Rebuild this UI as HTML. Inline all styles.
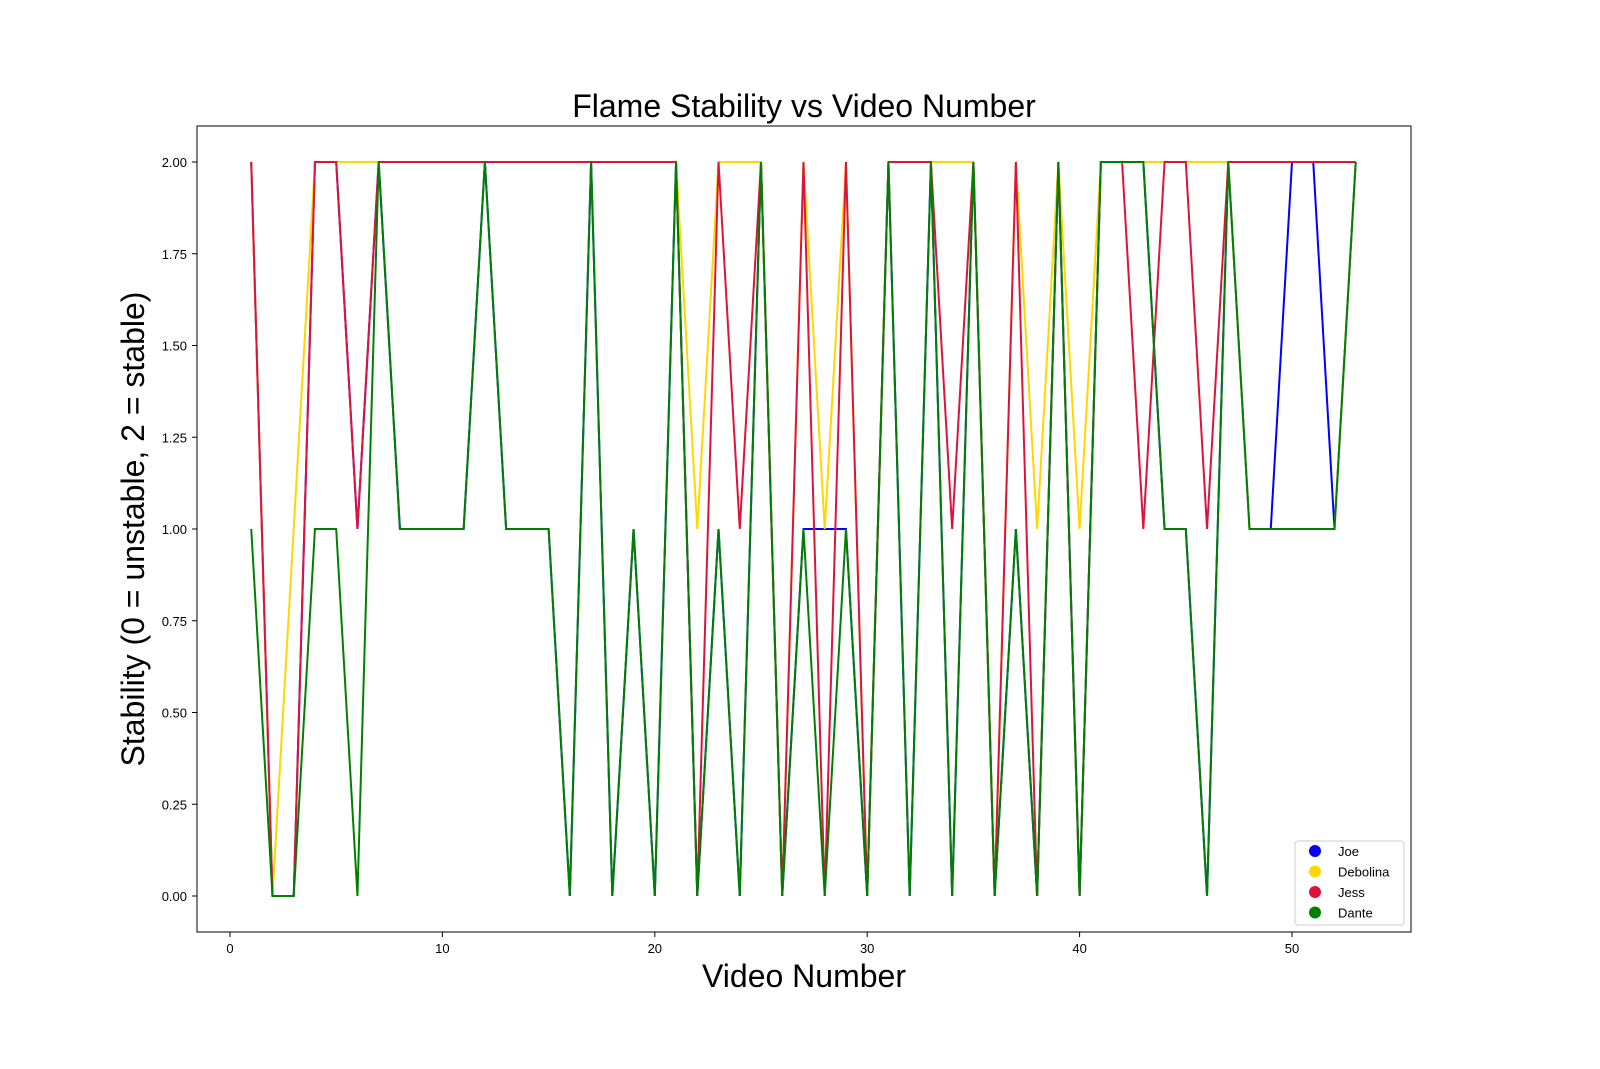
<!DOCTYPE html>
<html><head><meta charset="utf-8"><style>
body{margin:0;background:#fff;}
svg{display:block;font-family:"Liberation Sans","DejaVu Sans",sans-serif;}
</style></head><body>
<svg id="chart" width="1600" height="1069" viewBox="0 0 1600 1069">
<rect x="0" y="0" width="1600" height="1069" fill="#fff"/>
<text x="804" y="117" font-size="32" text-anchor="middle">Flame Stability vs Video Number</text>
<g id="plot"></g>
<g id="axes"></g>
<rect x="197" y="126" width="1214" height="806" fill="none" stroke="#000" stroke-width="1"/>
<text x="804" y="987" font-size="32" text-anchor="middle">Video Number</text>
<text x="0" y="0" font-size="32" text-anchor="middle" transform="translate(144,529) rotate(-90)">Stability (0 = unstable, 2 = stable)</text>
<g>
<rect x="1295" y="841" width="109" height="84" rx="3" fill="#fff" stroke="#ccc"/>
<g id="legend-items"></g>
</g>
</svg>
<script>
const xTicks=[0,10,20,30,40,50];
const yTicks=[0,0.25,0.5,0.75,1,1.25,1.5,1.75,2];
const yTickLabels=["0.00","0.25","0.50","0.75","1.00","1.25","1.50","1.75","2.00"];
const seriesNames=["Joe","Debolina","Jess","Dante"];
const seriesColors=["#0000ff","#ffd700","#dc143c","#008000"];
const videos=[1,2,3,4,5,6,7,8,9,10,11,12,13,14,15,16,17,18,19,20,21,22,23,24,25,26,27,28,29,30,31,32,33,34,35,36,37,38,39,40,41,42,43,44,45,46,47,48,49,50,51,52,53];
const joe=[2,0,0,2,2,1,2,1,1,1,1,2,1,1,1,0,2,0,1,0,2,0,1,0,2,0,1,1,1,0,2,0,2,0,2,0,1,0,2,0,2,2,2,1,1,0,2,1,1,2,2,1,2];
const debolina=[2,0,1,2,2,2,2,2,2,2,2,2,2,2,2,2,2,2,2,2,2,1,2,2,2,0,2,1,2,0,2,2,2,2,2,0,2,1,2,1,2,2,2,2,2,2,2,1,1,1,1,1,2];
const jess=[2,0,0,2,2,1,2,2,2,2,2,2,2,2,2,2,2,2,2,2,2,0,2,1,2,0,2,0,2,0,2,2,2,1,2,0,2,0,2,0,2,2,1,2,2,1,2,2,2,2,2,2,2];
const dante=[1,0,0,1,1,0,2,1,1,1,1,2,1,1,1,0,2,0,1,0,2,0,1,0,2,0,1,0,1,0,2,0,2,0,2,0,1,0,2,0,2,2,2,1,1,0,2,1,1,1,1,1,2];
const allSeries=[joe,debolina,jess,dante];
const NS="http://www.w3.org/2000/svg";
function sx(v){return 230+v*21.24;}
function sy(v){return 896-v*367;}
const plot=document.getElementById('plot');
const axes=document.getElementById('axes');
xTicks.forEach(t=>{
  const l=document.createElementNS(NS,'line');
  l.setAttribute('x1',sx(t));l.setAttribute('x2',sx(t));l.setAttribute('y1',932);l.setAttribute('y2',937);l.setAttribute('stroke','#000');
  
  
  axes.appendChild(l);
  const tx=document.createElementNS(NS,'text');
  tx.setAttribute('x',sx(t));tx.setAttribute('y',953);tx.setAttribute('font-size','13');tx.setAttribute('text-anchor','middle');
  tx.textContent=t;
  
  
  axes.appendChild(tx);
});
yTicks.forEach((t,i)=>{
  const l=document.createElementNS(NS,'line');
  l.setAttribute('x1',192);l.setAttribute('x2',197);l.setAttribute('y1',sy(t));l.setAttribute('y2',sy(t));l.setAttribute('stroke','#000');
  
  
  axes.appendChild(l);
  const tx=document.createElementNS(NS,'text');
  tx.setAttribute('x',187);tx.setAttribute('y',sy(t)+5);tx.setAttribute('font-size','13');tx.setAttribute('text-anchor','end');
  tx.textContent=yTickLabels[i];
  
  
  axes.appendChild(tx);
});
allSeries.forEach((s,k)=>{
  const p=document.createElementNS(NS,'polyline');
  p.setAttribute('points',s.map((v,i)=>sx(videos[i])+','+sy(v)).join(' '));
  p.setAttribute('fill','none');p.setAttribute('stroke',seriesColors[k]);p.setAttribute('stroke-width','2');
  
  
  plot.appendChild(p);
});
const leg=document.getElementById('legend-items');
seriesNames.forEach((n,k)=>{
  const y=851+k*20.5;
  const c=document.createElementNS(NS,'circle');
  c.setAttribute('cx',1315);c.setAttribute('cy',y);c.setAttribute('r',6);c.setAttribute('fill',seriesColors[k]);
  
  
  leg.appendChild(c);
  const t=document.createElementNS(NS,'text');
  t.setAttribute('x',1338);t.setAttribute('y',y+5);t.setAttribute('font-size','13');
  t.textContent=n;
  
  
  leg.appendChild(t);
});
</script>
</body></html>
